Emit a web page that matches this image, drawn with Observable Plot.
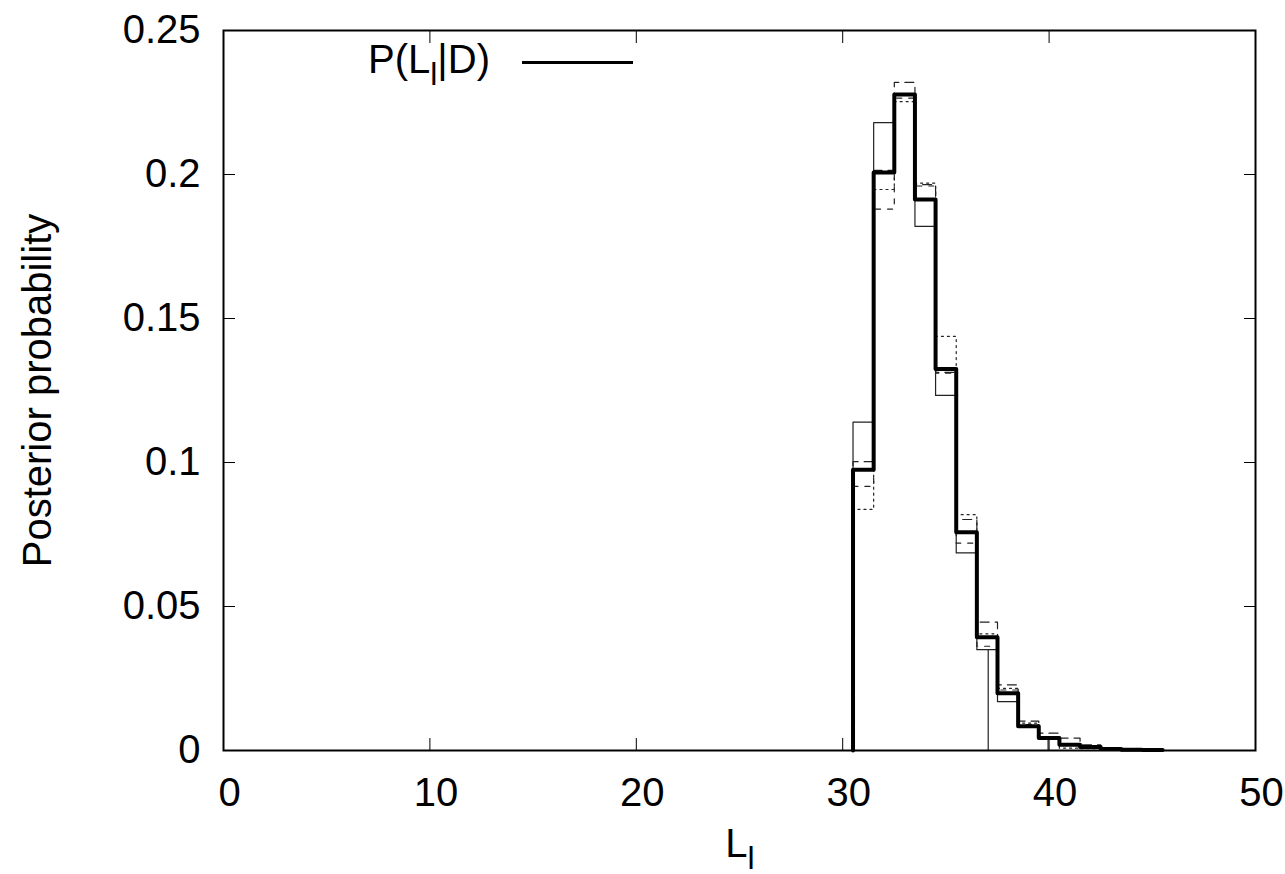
<!DOCTYPE html>
<html><head><meta charset="utf-8">
<script src="https://cdn.jsdelivr.net/npm/d3@7"></script>
<script src="https://cdn.jsdelivr.net/npm/@observablehq/plot@0.6"></script>
<style>
body{margin:0;background:#fff;}
#wrap{position:relative;width:1285px;height:874px;font-family:"Liberation Sans",Arial,sans-serif;}
.ov{position:absolute;font-size:40px;color:#000;white-space:nowrap;line-height:1;}
.ov .sb{font-size:0.8em;position:relative;top:12px;}
</style></head><body><div id="wrap"></div>
<script>
// bin centres (bin width 1)
const bins = [31,32,33,34,35,36,37,38,39,40,41,42,43,44,45];
// P(L_l|D) – thick line
const thick     = [0.0975,0.2007,0.2278,0.1913,0.1325,0.0758,0.0393,0.0199,0.0084,0.0043,0.0020,0.0012,0.0005,0.0003,0.0002];
// thin comparison histograms
const thinSolid = [0.1140,0.2180,0.2275,0.1820,0.1233,0.0686,0.0350,0.0170,0.0082,0.0040,0.0018,0.0009,0.0004,0.0002,0.0001];
const dashLong  = [0.1003,0.2014,0.2320,0.1965,0.1313,0.0802,0.0446,0.0228,0.0102,0.0060,0.0043,0.0020,0.0010,0.0005,0.0003];
const dashShort = [0.0917,0.1880,0.2265,0.1960,0.1310,0.0720,0.0362,0.0210,0.0090,0.0045,0.0020,0.0010,0.0005,0.0003,0.0001];
const dotted    = [0.0837,0.1948,0.2253,0.1970,0.1438,0.0819,0.0405,0.0216,0.0095,0.0045,0.0008,0.0006,0.0003,0.0002,0.0001];
// isolated vertical drops seen in the picture
const dropX = [37.05, 39.95];
const dropY = [0.035, 0.0035];
// ticks
const xTicks = [0,10,20,30,40,50];
const yTicks = [0,0.05,0.1,0.15,0.2,0.25];
const yTickLabels = ["0","0.05","0.1","0.15","0.2","0.25"];

function steps(vals){
  const pts=[{x:bins[0]-0.5,y:0}];
  vals.forEach((v,i)=>pts.push({x:bins[i]-0.5,y:v}));
  pts.push({x:bins[bins.length-1]+0.5,y:vals[vals.length-1]});
  return pts;
}
const drops = dropX.map((x,i)=>({x, y:dropY[i]}));
const yFmt = d => yTickLabels[yTicks.findIndex(t=>Math.abs(t-d)<1e-9)];

const chart = Plot.plot({
  width:1285, height:874,
  marginLeft:223, marginRight:30, marginTop:30, marginBottom:124,
  style:{fontFamily:'"Liberation Sans",Arial,sans-serif', fontSize:"40px", color:"#000", background:"#fff"},
  x:{domain:[0,50]},
  y:{domain:[0,0.25]},
  marks:[
    Plot.line(steps(thinSolid),{x:"x",y:"y",curve:"step-after",stroke:"#222",strokeWidth:1.2}),
    Plot.line(steps(dashLong),{x:"x",y:"y",curve:"step-after",stroke:"#222",strokeWidth:1.2,strokeDasharray:"9,6"}),
    Plot.line(steps(dashShort),{x:"x",y:"y",curve:"step-after",stroke:"#222",strokeWidth:1.2,strokeDasharray:"5,7"}),
    Plot.line(steps(dotted),{x:"x",y:"y",curve:"step-after",stroke:"#222",strokeWidth:1.2,strokeDasharray:"2,4"}),
    Plot.ruleX(drops,{x:"x",y1:0,y2:"y",stroke:"#222",strokeWidth:1.2}),
    Plot.line(steps(thick),{x:"x",y:"y",curve:"step-after",stroke:"#000",strokeWidth:4}),
    Plot.frame({stroke:"#000",strokeWidth:2}),
    // inward ticks on all four sides
    Plot.axisX({anchor:"bottom",ticks:xTicks,tickSize:-12,tickFormat:()=>"",label:null}),
    Plot.axisX({anchor:"top",ticks:xTicks,tickSize:-12,tickFormat:()=>"",label:null}),
    Plot.axisY({anchor:"left",ticks:yTicks,tickSize:-12,tickFormat:()=>"",label:null}),
    Plot.axisY({anchor:"right",ticks:yTicks,tickSize:-12,tickFormat:()=>"",label:null}),
    // tick labels
    Plot.axisX({anchor:"bottom",ticks:xTicks,tickSize:0,tickPadding:27,dx:6,label:null,fontSize:40}),
    Plot.axisY({anchor:"left",ticks:yTicks,tickSize:0,tickPadding:23,tickFormat:yFmt,label:null,fontSize:40}),
    Plot.text(["Posterior probability"],{frameAnchor:"left",rotate:-90,dx:-185,fontSize:40,textAnchor:"middle"})
  ]
});
const wrap=document.getElementById("wrap");
wrap.appendChild(chart);
function ov(html,left,top,extra){
  const d=document.createElement("div");d.className="ov";d.innerHTML=html;
  d.style.left=left+"px";d.style.top=top+"px";
  if(extra) Object.assign(d.style,extra);
  wrap.appendChild(d);return d;
}
// legend
ov('P(L<span class="sb">l</span>|D)',368,39);
const ln=document.createElement("div");
Object.assign(ln.style,{position:"absolute",left:"522px",top:"61px",width:"111px",height:"3px",background:"#000"});
wrap.appendChild(ln);
// x label
ov('L<span class="sb">l</span>',740,823,{transform:"translateX(-50%)"});
</script></body></html>
